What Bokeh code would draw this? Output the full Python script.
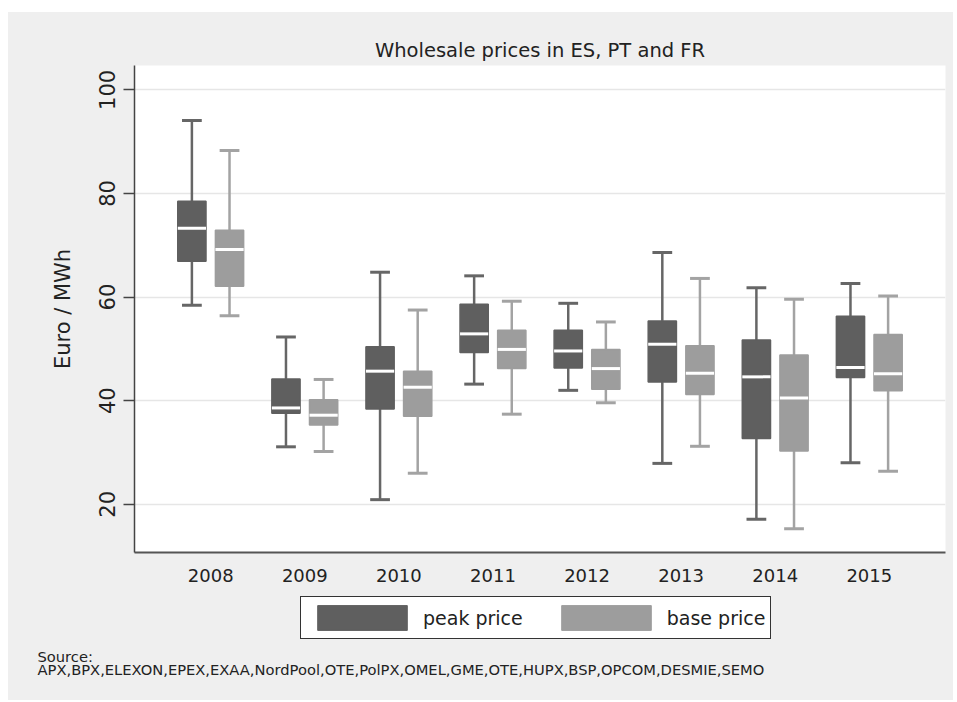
from bokeh.plotting import figure
from bokeh.layouts import column
from bokeh.models import (FactorRange, Range1d, FixedTicker, Legend, LegendItem,
                          Title, ColumnDataSource)
from bokeh.transform import dodge
from bokeh.embed import file_html
from bokeh.resources import INLINE

years = ["2008", "2009", "2010", "2011", "2012", "2013", "2014", "2015"]

peak_lo = [58.4, 31.1, 20.9, 43.2, 42.0, 27.9, 17.1, 28.0]
peak_q1 = [66.9, 37.6, 38.4, 49.3, 46.3, 43.6, 32.7, 44.5]
peak_med = [73.3, 38.6, 45.7, 52.9, 49.6, 50.9, 44.6, 46.4]
peak_q3 = [78.5, 44.2, 50.4, 58.6, 53.6, 55.4, 51.7, 56.3]
peak_hi = [94.1, 52.3, 64.8, 64.1, 58.8, 68.6, 61.8, 62.6]

base_lo = [56.4, 30.2, 26.0, 37.4, 39.6, 31.2, 15.3, 26.4]
base_q1 = [62.1, 35.3, 37.0, 46.2, 42.2, 41.2, 30.3, 41.9]
base_med = [69.2, 37.2, 42.6, 49.9, 46.2, 45.3, 40.5, 45.2]
base_q3 = [72.9, 40.2, 45.7, 53.6, 49.9, 50.6, 48.8, 52.8]
base_hi = [88.3, 44.1, 57.5, 59.2, 55.2, 63.6, 59.6, 60.2]

y_ticks = [20, 40, 60, 80, 100]

series_labels = ["peak price", "base price"]
source_text = "Source:\nAPX,BPX,ELEXON,EPEX,EXAA,NordPool,OTE,PolPX,OMEL,GME,OTE,HUPX,BSP,OPCOM,DESMIE,SEMO"

FONT = "DejaVu Sans"
BG = "#efefef"
PEAK_FILL, PEAK_LINE = "#5f5f5f", "#666666"
BASE_FILL, BASE_LINE = "#9d9d9d", "#a3a3a3"

# ---------------- main plot ----------------
x_range = FactorRange(factors=years, range_padding=0.31, range_padding_units="absolute")
p = figure(width=945, height=578, x_range=x_range, y_range=Range1d(10.7, 104.7),
           output_backend="svg", toolbar_location=None,
           min_border_left=126, min_border_top=53, min_border_right=8, min_border_bottom=38)

p.background_fill_color = "white"
p.border_fill_color = BG
p.outline_line_color = None

p.title.text = "Wholesale prices in ES, PT and FR"
p.title.align = "center"
p.title.text_font = FONT
p.title.text_font_size = "19.5px"
p.title.text_font_style = "normal"
p.title.text_color = "#222222"
p.title.standoff = 8

p.xgrid.grid_line_color = None
p.ygrid.grid_line_color = "#e6e6e6"
p.ygrid.grid_line_width = 1.5

p.yaxis.ticker = FixedTicker(ticks=y_ticks)
p.yaxis.axis_label = "Euro / MWh"
p.yaxis.axis_label_text_font = FONT
p.yaxis.axis_label_text_font_size = "21px"
p.yaxis.axis_label_text_font_style = "normal"
p.yaxis.axis_label_text_color = "#222222"
p.yaxis.axis_label_standoff = 22
p.yaxis.major_label_text_font = FONT
p.yaxis.major_label_text_font_size = "21px"
p.yaxis.major_label_text_color = "#222222"
p.yaxis.major_label_orientation = "vertical"
p.yaxis.major_label_standoff = 8
p.yaxis.major_tick_out = 11
p.yaxis.major_tick_in = 0
p.yaxis.minor_tick_line_color = None
p.yaxis.axis_line_color = "#444444"
p.yaxis.axis_line_width = 1.5
p.yaxis.major_tick_line_color = "#444444"
p.yaxis.major_tick_line_width = 1.5

p.xaxis.major_label_text_font = FONT
p.xaxis.major_label_text_font_size = "18px"
p.xaxis.major_label_text_color = "#222222"
p.xaxis.major_label_standoff = 10
p.xaxis.major_tick_line_color = None
p.xaxis.minor_tick_line_color = None
p.xaxis.axis_line_color = "#555555"
p.xaxis.axis_line_width = 2

src = ColumnDataSource(dict(year=years,
                            peak_lo=peak_lo, peak_q1=peak_q1, peak_med=peak_med,
                            peak_q3=peak_q3, peak_hi=peak_hi,
                            base_lo=base_lo, base_q1=base_q1, base_med=base_med,
                            base_q3=base_q3, base_hi=base_hi))

series = [("peak", -0.2, PEAK_FILL, PEAK_LINE), ("base", 0.2, BASE_FILL, BASE_LINE)]
BOXW = 0.30
CAPW = 0.21
for name, off, fill, wcol in series:
    xc = dodge("year", off, range=p.x_range)
    p.segment(x0=xc, x1=xc, y0=f"{name}_q3", y1=f"{name}_hi", source=src,
              line_color=wcol, line_width=2.5)
    p.segment(x0=xc, x1=xc, y0=f"{name}_lo", y1=f"{name}_q1", source=src,
              line_color=wcol, line_width=2.5)
    p.segment(x0=dodge("year", off - CAPW / 2, range=p.x_range),
              x1=dodge("year", off + CAPW / 2, range=p.x_range),
              y0=f"{name}_hi", y1=f"{name}_hi", source=src, line_color=wcol, line_width=3)
    p.segment(x0=dodge("year", off - CAPW / 2, range=p.x_range),
              x1=dodge("year", off + CAPW / 2, range=p.x_range),
              y0=f"{name}_lo", y1=f"{name}_lo", source=src, line_color=wcol, line_width=3)
    p.vbar(x=xc, width=BOXW, bottom=f"{name}_q1", top=f"{name}_q3", source=src,
           fill_color=fill, line_color=fill, line_width=1.5)
    p.segment(x0=dodge("year", off - BOXW / 2, range=p.x_range),
              x1=dodge("year", off + BOXW / 2, range=p.x_range),
              y0=f"{name}_med", y1=f"{name}_med", source=src,
              line_color="white", line_width=3)

# ---------------- legend + source strip ----------------
# hidden box renderers on the shared category axis provide the legend swatches
q = figure(width=945, height=110, x_range=p.x_range, y_range=Range1d(0, 1),
           output_backend="svg", toolbar_location=None,
           x_axis_location=None, y_axis_location=None,
           min_border_left=126, min_border_top=5, min_border_right=8, min_border_bottom=60)
q.background_fill_alpha = 0
q.border_fill_color = BG
q.outline_line_color = None
q.grid.grid_line_color = None

leg_renderers = []
for name, off, fill, wcol in series:
    r = q.vbar(x=dodge("year", off, range=q.x_range), width=BOXW,
               bottom=f"{name}_q1", top=f"{name}_q3", source=src,
               fill_color=fill, line_color=fill)
    r.visible = False
    leg_renderers.append(r)

legend = Legend(items=[LegendItem(label=series_labels[0], renderers=[leg_renderers[0]]),
                       LegendItem(label=series_labels[1], renderers=[leg_renderers[1]])],
                orientation="horizontal", location=(166, 1),
                glyph_width=112, glyph_height=31, label_standoff=5, spacing=27,
                padding=5, margin=0,
                label_text_font=FONT, label_text_font_size="19px", label_text_color="#222222",
                border_line_color="#333333", border_line_width=1.5, border_line_alpha=1.0,
                background_fill_color="white", background_fill_alpha=1.0,
                inactive_fill_alpha=0.0)
q.add_layout(legend, "center")

src_title = Title(text=source_text, align="left", text_font=FONT, text_font_size="14.7px",
                  text_font_style="normal", text_color="#222222", offset=-97, standoff=11,
                  text_line_height=0.78)
q.add_layout(src_title, "below")

layout = column(p, q, spacing=0, margin=(12, 0, 0, 8),
                styles={"background-color": BG})
open("out.html", "w").write(file_html(layout, INLINE))
